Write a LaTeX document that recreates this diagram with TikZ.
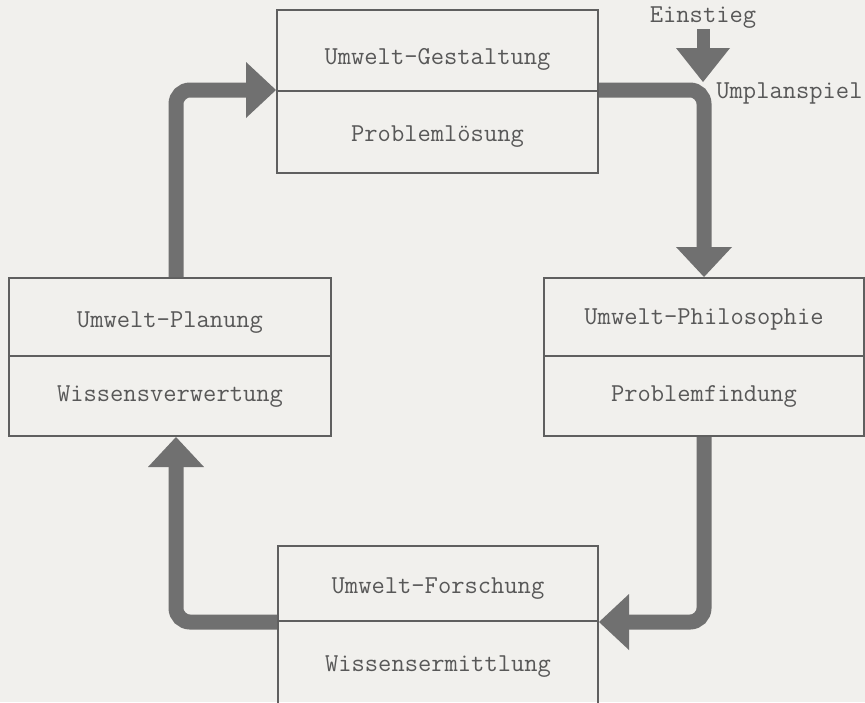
\documentclass[tikz,border=0pt]{standalone}
\usetikzlibrary{arrows.meta}
\definecolor{paper}{RGB}{241,240,237}
\definecolor{inkgray}{RGB}{88,88,88}
\definecolor{framegray}{RGB}{95,95,95}
\definecolor{flowgray}{RGB}{112,112,112}
\begin{document}
\begin{tikzpicture}[x=0.5pt,y=-0.5pt,
  half/.style={draw=framegray, line width=1pt, rectangle, anchor=north west,
    inner sep=0pt, text depth=0pt, text=inkgray,
    font=\ttfamily\fontsize{12.9}{15}\selectfont},
  flow/.style={draw=flowgray, line width=7.5pt, rounded corners=7pt,
    -{Triangle[length=15pt,width=28pt,line width=0pt]}},
  entryflow/.style={draw=flowgray, line width=6.5pt,
    -{Triangle[length=17pt,width=27pt,line width=0pt]}},
  lbl/.style={text=inkgray, inner sep=0pt, font=\ttfamily\fontsize{12.9}{15}\selectfont}]
  \useasboundingbox (0,0) rectangle (865,702);
  \fill[paper] (0,0) rectangle (865,702);

  % top block
  \node[half, minimum width=160.5pt, minimum height=40.5pt, text height=14pt] (T1) at (276,9) {Umwelt-Gestaltung};
  \node[half, minimum width=160.5pt, minimum height=41pt, text height=9pt] (T2) at (276,90) {Problemlösung};
  % left block
  \node[half, minimum width=161pt, minimum height=39pt, text height=10pt] (L1) at (8,277) {Umwelt-Planung};
  \node[half, minimum width=161pt, minimum height=40pt, text height=5.5pt] (L2) at (8,355) {Wissensverwertung};
  % right block
  \node[half, minimum width=160pt, minimum height=39pt, text height=7.5pt] (R1) at (543,277) {Umwelt-Philosophie};
  \node[half, minimum width=160pt, minimum height=40pt, text height=5.5pt] (R2) at (543,355) {Problemfindung};
  % bottom block (runs off the lower edge)
  \node[half, minimum width=160pt, minimum height=37.5pt, text height=9.5pt] (B1) at (277,545) {Umwelt-Forschung};
  \node[half, minimum width=160pt, minimum height=43pt, text height=7pt] (B2) at (277,620) {Wissensermittlung};

  % entry marker
  \node[lbl] (ein) at (703,18) {Einstieg};
  \coordinate (entry) at (703,82);
  \node[lbl, anchor=west] (ups) at (716,93) {Umplanspiel};
  \draw[entryflow] (ein.south) -- (entry);

  % cycle
  \draw[flow] ([xshift=3pt]L1.north) |- (T2.north west);
  \draw[flow] (T2.north east) -| (R1.north);
  \draw[flow] (R2.south) |- (B1.south east);
  \draw[flow] (B1.south west) -| ([xshift=3pt]L2.south);
\end{tikzpicture}
\end{document}
